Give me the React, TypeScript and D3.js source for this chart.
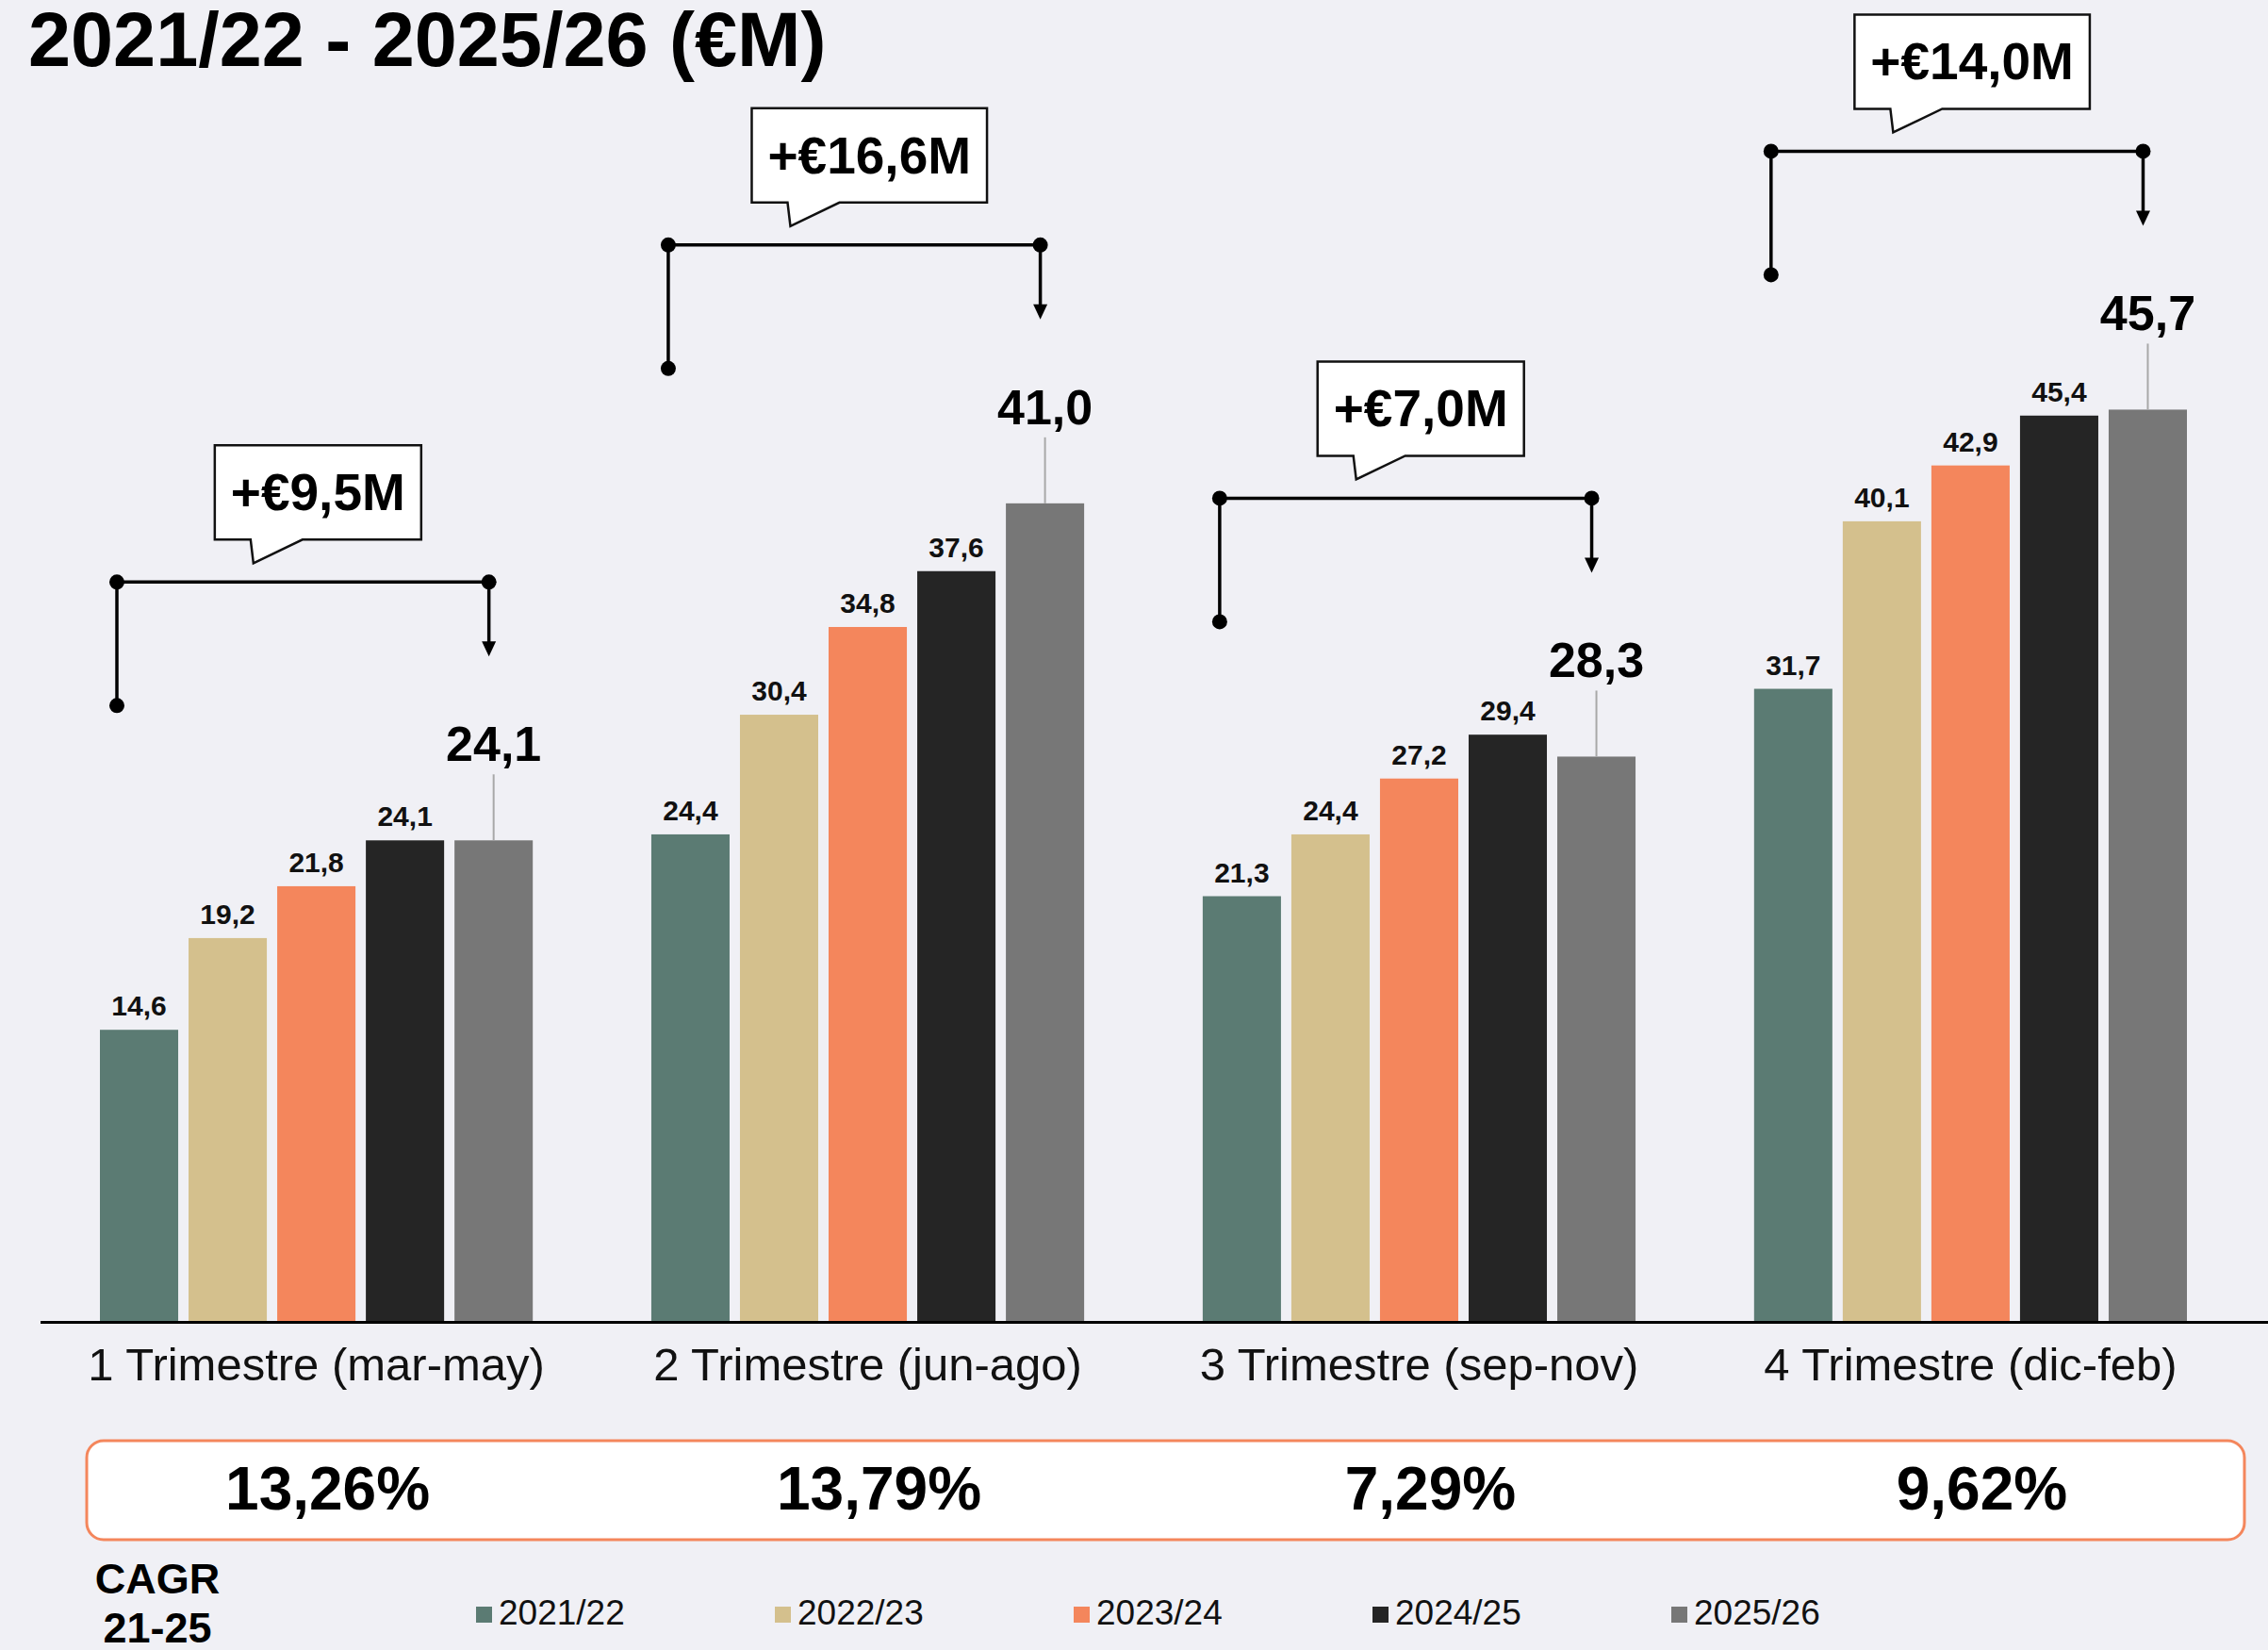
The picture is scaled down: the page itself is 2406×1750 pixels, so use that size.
import React from "react";
import * as d3 from "d3";

const categories = [
  "1 Trimestre (mar-may)",
  "2 Trimestre (jun-ago)",
  "3 Trimestre (sep-nov)",
  "4 Trimestre (dic-feb)",
];
const seriesNames = ["2021/22", "2022/23", "2023/24", "2024/25", "2025/26"];
const values2122 = [14.6, 24.4, 21.3, 31.7];
const values2223 = [19.2, 30.4, 24.4, 40.1];
const values2324 = [21.8, 34.8, 27.2, 42.9];
const values2425 = [24.1, 37.6, 29.4, 45.4];
const values2526 = [24.1, 41.0, 28.3, 45.7];
const growthLabels = ["+€9,5M", "+€16,6M", "+€7,0M", "+€14,0M"];
const cagrLabels = ["13,26%", "13,79%", "7,29%", "9,62%"];
const seriesColors = ["#5b7b73", "#d4c08d", "#f4865c", "#252525", "#777777"];

const W = 2406;
const H = 1750;
const FONT = "'Liberation Sans', Arial, Helvetica, sans-serif";

function measure(text: string, font: string): number {
  try {
    const c = document.createElement("canvas");
    const ctx = c.getContext("2d");
    if (ctx) {
      ctx.font = font;
      return ctx.measureText(text).width;
    }
  } catch (e) {}
  return text.length * 30;
}

const fmt = (v: number) => d3.format(".1f")(v).replace(".", ",");

export default function App() {
  const series = [values2122, values2223, values2324, values2425, values2526];

  const x0 = d3
    .scaleBand<string>()
    .domain(categories)
    .range([106, 2320])
    .paddingInner(0.215)
    .paddingOuter(0);
  const x1 = d3
    .scaleBand<string>()
    .domain(seriesNames)
    .range([0, x0.bandwidth()])
    .paddingInner(0.117)
    .paddingOuter(0);
  const y = d3.scaleLinear().domain([0, 50]).range([1401, 343.5]);
  const bw = x1.bandwidth();

  return (
    <svg
      width={W}
      height={H}
      viewBox={`0 0 ${W} ${H}`}
      style={{ position: "absolute", left: 0, top: 0, display: "block" }}
      fontFamily={FONT}
    >
      <rect x={0} y={0} width={W} height={H} fill="#f0f0f5" />

      <text x={30} y={70} fontSize={81} fontWeight={700} fill="#000">
        2021/22 - 2025/26 (€M)
      </text>

      {/* bars */}
      {categories.map((cat, ci) => (
        <g key={cat}>
          {seriesNames.map((s, si) => {
            const v = series[si][ci];
            const bx = (x0(cat) as number) + (x1(s) as number);
            return (
              <rect
                key={s}
                x={bx}
                y={y(v)}
                width={bw}
                height={y(0) - y(v)}
                fill={seriesColors[si]}
              />
            );
          })}
          {seriesNames.slice(0, 4).map((s, si) => {
            const v = series[si][ci];
            const cx = (x0(cat) as number) + (x1(s) as number) + bw / 2;
            return (
              <text
                key={s}
                x={cx}
                y={y(v) - 15}
                textAnchor="middle"
                fontSize={30}
                fontWeight={700}
                fill="#111"
              >
                {fmt(v)}
              </text>
            );
          })}
        </g>
      ))}

      {/* axis line */}
      <line x1={43} x2={W} y1={y(0) + 1.5} y2={y(0) + 1.5} stroke="#000" strokeWidth={3} />

      {/* category labels */}
      {categories.map((cat) => (
        <text
          key={cat}
          x={(x0(cat) as number) + x0.bandwidth() / 2}
          y={1464}
          textAnchor="middle"
          fontSize={49}
          fontWeight={400}
          fill="#111"
        >
          {cat}
        </text>
      ))}

      {/* big last-year labels, brackets and callouts */}
      {categories.map((cat, ci) => {
        const last = series[4][ci];
        const gx = x0(cat) as number;
        const firstX = gx + (x1(seriesNames[0]) as number);
        const lastCenter = gx + (x1(seriesNames[4]) as number) + bw / 2;
        const left = firstX + 18;
        const right = lastCenter - 5;
        const top = y(last) - 274;
        const label = growthLabels[ci];
        const boxFont = `700 55px ${FONT}`;
        const tw = measure(label, boxFont);
        const boxW = tw + 34;
        const boxH = 100;
        const cx = (left + right) / 2 + 16;
        const bx = cx - boxW / 2;
        const by = top - 145;
        const bb = by + boxH;
        const tail = `M${bx},${by} H${bx + boxW} V${bb} H${bx + 93} L${bx + 41},${bb + 25} L${bx + 38},${bb} H${bx} Z`;
        return (
          <g key={cat}>
            <line
              x1={lastCenter}
              x2={lastCenter}
              y1={y(last) - 70}
              y2={y(last)}
              stroke="#a8a8a8"
              strokeWidth={2}
            />
            <text
              x={lastCenter}
              y={y(last) - 84}
              textAnchor="middle"
              fontSize={52}
              fontWeight={700}
              fill="#000"
            >
              {fmt(last)}
            </text>

            <line x1={left} x2={right} y1={top} y2={top} stroke="#000" strokeWidth={3.5} />
            <line x1={left} x2={left} y1={top} y2={top + 131} stroke="#000" strokeWidth={3.5} />
            <line x1={right} x2={right} y1={top} y2={top + 64} stroke="#000" strokeWidth={3.5} />
            <path
              d={`M${right - 7.5},${top + 63} L${right + 7.5},${top + 63} L${right},${top + 79} Z`}
              fill="#000"
            />
            <circle cx={left} cy={top} r={8} fill="#000" />
            <circle cx={left} cy={top + 131} r={8} fill="#000" />
            <circle cx={right} cy={top} r={8} fill="#000" />

            <path d={tail} fill="#fff" stroke="#111" strokeWidth={2.5} strokeLinejoin="miter" />
            <text
              x={cx}
              y={by + 69}
              textAnchor="middle"
              fontSize={55}
              fontWeight={700}
              fill="#000"
            >
              {label}
            </text>
          </g>
        );
      })}

      {/* CAGR box */}
      <rect
        x={92}
        y={1528}
        width={2381 - 92}
        height={1633 - 1528}
        rx={18}
        ry={18}
        fill="#fff"
        stroke="#f4865c"
        strokeWidth={3}
      />
      {categories.map((cat, ci) => (
        <text
          key={cat}
          x={(x0(cat) as number) + x0.bandwidth() / 2 + 12}
          y={1601}
          textAnchor="middle"
          fontSize={64}
          fontWeight={700}
          fill="#000"
        >
          {cagrLabels[ci]}
        </text>
      ))}

      <text x={167} y={1690} textAnchor="middle" fontSize={45} fontWeight={700} fill="#000">
        CAGR
      </text>
      <text x={167} y={1742} textAnchor="middle" fontSize={45} fontWeight={700} fill="#000">
        21-25
      </text>

      {/* legend */}
      {seriesNames.map((s, si) => {
        const lx = 505 + si * 317;
        return (
          <g key={s}>
            <rect x={lx} y={1704} width={17} height={17} fill={seriesColors[si]} />
            <text x={lx + 24} y={1723} fontSize={37} fontWeight={400} fill="#111">
              {s}
            </text>
          </g>
        );
      })}
    </svg>
  );
}
